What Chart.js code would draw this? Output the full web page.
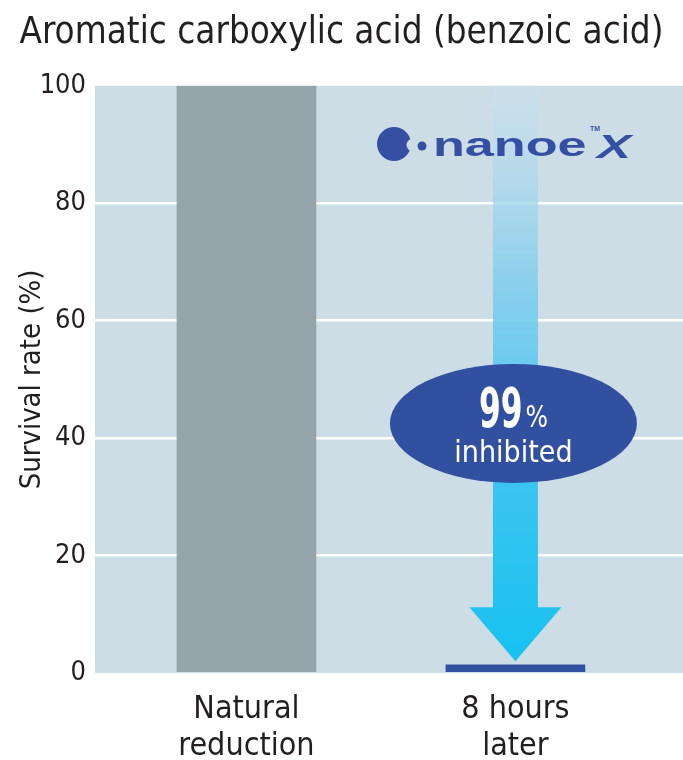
<!DOCTYPE html>
<html>
<head>
<meta charset="utf-8">
<script src="https://cdn.jsdelivr.net/npm/chart.js@4"></script>
<style>
  html, body { margin: 0; padding: 0; background: #fff; }
  #wrap { width: 683px; height: 760px; position: relative; }
</style>
</head>
<body>
<div id="wrap"><canvas id="survival-chart"></canvas></div>
<script>
const chartTitle = "Aromatic carboxylic acid (benzoic acid)";
const categories = [["Natural", "reduction"], ["8 hours", "later"]];
const survivalRates = [100, 1.4];
const barColors = ["#95a3aa", "#3250a0"];
const yTicks = [0, 20, 40, 60, 80, 100];
const yAxisTitle = "Survival rate (%)";
const inhibitedText = ["99", "%", "inhibited"];

const fontName = "'DejaVu Sans Condensed', 'Liberation Sans Narrow', sans-serif";
const textColor = "#231f20";
const panelColor = "#cddde5";

// light blue panel behind the plot + rotated axis title
const panelPlugin = {
    id: "panel",
    beforeDraw(chart) {
        const {ctx, chartArea} = chart;
        ctx.save();
        ctx.fillStyle = panelColor;
        ctx.fillRect(chartArea.left, chartArea.top, chartArea.right - chartArea.left, chartArea.bottom - chartArea.top);
        ctx.translate(32, chart.scales.y.getPixelForValue(50));
        ctx.rotate(-Math.PI / 2);
        ctx.fillStyle = textColor;
        ctx.font = "29px " + fontName;
        ctx.textAlign = "center";
        ctx.textBaseline = "middle";
        ctx.fillText(yAxisTitle, 0, 0);
        ctx.restore();
    }
};

// gradient arrow, ellipse badge and nanoe X logo
const decorPlugin = {
    id: "decor",
    afterDatasetsDraw(chart) {
        const {ctx} = chart;
        const xs = chart.scales.x, ys = chart.scales.y;
        const cx = xs.getPixelForValue(1);
        const top = ys.getPixelForValue(100);
        const headY = ys.getPixelForValue(11.2);
        const tipY = ys.getPixelForValue(2);

        ctx.save();
        const grad = ctx.createLinearGradient(0, top, 0, tipY);
        grad.addColorStop(0, "rgba(205,225,236,0.6)");
        grad.addColorStop(0.35, "rgba(130,205,238,0.9)");
        grad.addColorStop(0.7, "rgba(50,195,240,0.95)");
        grad.addColorStop(1, "rgba(23,193,240,1)");
        ctx.fillStyle = grad;
        ctx.beginPath();
        ctx.moveTo(cx - 22.5, top);
        ctx.lineTo(cx + 22.5, top);
        ctx.lineTo(cx + 22.5, headY);
        ctx.lineTo(cx + 46, headY);
        ctx.lineTo(cx, tipY);
        ctx.lineTo(cx - 46, headY);
        ctx.lineTo(cx - 22.5, headY);
        ctx.closePath();
        ctx.fill();

        // ellipse badge
        const ex = cx - 2;
        const ey = ys.getPixelForValue(42.5);
        ctx.fillStyle = "#3250a0";
        ctx.beginPath();
        ctx.ellipse(ex, ey, 123.5, 59.5, 0, 0, Math.PI * 2);
        ctx.fill();

        ctx.fillStyle = "#ffffff";
        ctx.textBaseline = "alphabetic";
        ctx.textAlign = "left";
        const squeeze = 0.62;
        ctx.font = "bold 56px " + fontName;
        const w99 = ctx.measureText(inhibitedText[0]).width * squeeze;
        ctx.font = "31px " + fontName;
        const wPct = ctx.measureText(inhibitedText[1]).width * 0.85;
        const startX = ex - (w99 + wPct + 3) / 2;
        ctx.save();
        ctx.translate(startX, ey + 4);
        ctx.scale(squeeze, 1);
        ctx.font = "bold 56px " + fontName;
        ctx.fillText(inhibitedText[0], 0, 0);
        ctx.restore();
        ctx.save();
        ctx.translate(startX + w99 + 3, ey + 4);
        ctx.scale(0.85, 1);
        ctx.font = "31px " + fontName;
        ctx.fillText(inhibitedText[1], 0, 0);
        ctx.restore();
        ctx.textAlign = "center";
        ctx.font = "30px " + fontName;
        ctx.fillText(inhibitedText[2], ex, ey + 39);

        // logo
        const ly = 144;
        ctx.fillStyle = "#3550a3";
        ctx.beginPath();
        ctx.arc(394, ly, 17, 0, Math.PI * 2);
        ctx.fill();
        ctx.fillStyle = panelColor;
        ctx.beginPath();
        ctx.arc(413, ly + 1, 6.5, 0, Math.PI * 2);
        ctx.fill();
        ctx.fillStyle = "#3550a3";
        ctx.beginPath();
        ctx.arc(422, ly + 2, 4.5, 0, Math.PI * 2);
        ctx.fill();
        ctx.save();
        ctx.translate(433, 156);
        ctx.scale(1.58, 1);
        ctx.font = "bold 33px 'Liberation Sans', sans-serif";
        ctx.textAlign = "left";
        ctx.fillText("nanoe", 0, 0);
        ctx.restore();
        ctx.save();
        ctx.translate(597, 158);
        ctx.scale(1.55, 1);
        ctx.font = "italic bold 33px 'Liberation Sans', sans-serif";
        ctx.textAlign = "left";
        ctx.fillText("X", 0, 0);
        ctx.restore();
        ctx.font = "bold 7px 'Liberation Sans', sans-serif";
        ctx.textAlign = "left";
        ctx.fillText("TM", 590, 131);
        ctx.restore();
    }
};

const chartData = categories.map((c, i) => ({x: i, y: survivalRates[i]}));

new Chart(document.getElementById("survival-chart"), {
    type: "bar",
    data: {
        datasets: [{
            data: chartData,
            backgroundColor: barColors,
            barThickness: 139,
            borderWidth: 0
        }]
    },
    options: {
        responsive: true,
        maintainAspectRatio: false,
        animation: false,
        layout: { padding: { top: 4, right: 0, bottom: 0, left: 0 } },
        plugins: {
            legend: { display: false },
            tooltip: { enabled: false },
            title: {
                display: true,
                text: chartTitle,
                color: textColor,
                font: { family: fontName, size: 36.5, weight: "normal" },
                padding: { top: 8, bottom: 30 }
            }
        },
        scales: {
            x: {
                type: "linear",
                offset: false,
                min: -0.563,
                max: 1.623,
                afterBuildTicks: (axis) => { axis.ticks = categories.map((c, i) => ({value: i})); },
                afterFit: (axis) => { axis.height = 87; },
                grid: { display: false, drawTicks: false },
                border: { display: false },
                ticks: {
                    color: textColor,
                    font: { family: fontName, size: 32, lineHeight: 1.13 },
                    padding: 19,
                    maxRotation: 0,
                    autoSkip: false,
                    callback: (v) => categories[v]
                }
            },
            y: {
                min: 0,
                max: 100,
                afterBuildTicks: (axis) => { axis.ticks = yTicks.map(v => ({value: v})); },
                afterFit: (axis) => { axis.width = 95; },
                grid: {
                    color: (c) => (c.tick.value === 0 || c.tick.value === 100) ? "rgba(0,0,0,0)" : "#ffffff",
                    lineWidth: 2.5,
                    drawTicks: false
                },
                border: { display: false },
                ticks: {
                    color: textColor,
                    font: { family: fontName, size: 27 },
                    padding: 9
                }
            }
        }
    },
    plugins: [panelPlugin, decorPlugin]
});
</script>
</body>
</html>
